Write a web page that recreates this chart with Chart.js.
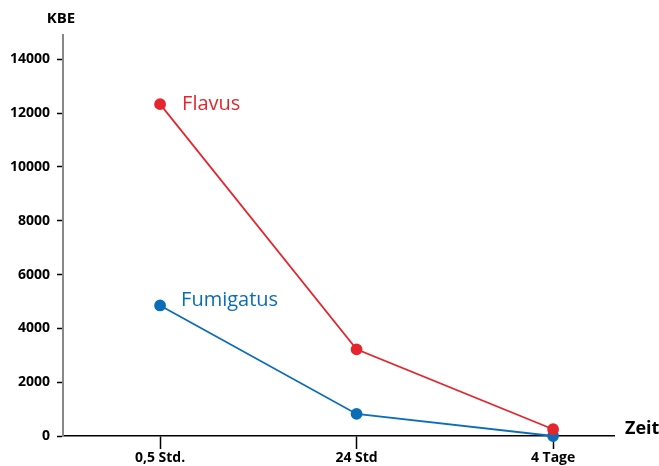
<!DOCTYPE html>
<html>
<head>
<meta charset="utf-8">
<script src="https://cdn.jsdelivr.net/npm/chart.js@4/dist/chart.umd.min.js"></script>
<style>
html,body{margin:0;padding:0;background:#fff;}
#wrap{width:659px;height:466px;position:relative;}
</style>
</head>
<body>
<div id="wrap"><canvas id="c" width="659" height="466"></canvas></div>
<script>
const categories = ["0,5 Std.", "24 Std", "4 Tage"];
const flavus = [12330, 3220, 250];
const fumigatus = [4850, 820, 0];
const yTicks = [0, 2000, 4000, 6000, 8000, 10000, 12000, 14000];
const seriesNames = ["Flavus", "Fumigatus"];
const yTitle = "KBE";
const xTitle = "Zeit";

const RED = "#e5262e";
const BLUE = "#0a6db8";
const FONT = "'Open Sans', 'DejaVu Sans', sans-serif";

const labelPlugin = {
  id: 'labels',
  afterDatasetsDraw(chart) {
    const ctx = chart.ctx;
    const ca = chart.chartArea;
    ctx.save();
    const offs = [{dx: 22, dy: 0}, {dx: 21, dy: -5}];
    const cols = [RED, BLUE];
    chart.data.datasets.forEach((ds, i) => {
      const p = chart.getDatasetMeta(i).data[0];
      ctx.fillStyle = cols[i];
      ctx.font = "20px " + FONT;
      ctx.textAlign = "left";
      ctx.textBaseline = "middle";
      ctx.fillText(seriesNames[i], p.x + offs[i].dx, p.y + offs[i].dy);
    });
    ctx.fillStyle = "#000";
    ctx.font = "bold 15px " + FONT;
    ctx.textAlign = "center";
    ctx.textBaseline = "middle";
    ctx.fillText(yTitle, ca.left - 2, ca.top - 16);
    ctx.font = "bold 18px " + FONT;
    ctx.textAlign = "left";
    ctx.fillText(xTitle, ca.right + 11, ca.bottom - 7);
    ctx.restore();
  }
};

new Chart(document.getElementById('c'), {
  type: 'line',
  data: {
    datasets: [
      {
        label: seriesNames[0],
        data: flavus.map((v, i) => ({x: i, y: v})),
        borderColor: RED, backgroundColor: RED,
        pointBackgroundColor: RED, pointBorderColor: RED,
        borderWidth: 1.8, pointRadius: 5, tension: 0
      },
      {
        label: seriesNames[1],
        data: fumigatus.map((v, i) => ({x: i, y: v})),
        borderColor: BLUE, backgroundColor: BLUE,
        pointBackgroundColor: BLUE, pointBorderColor: BLUE,
        borderWidth: 1.8, pointRadius: 5, tension: 0
      }
    ]
  },
  options: {
    responsive: false,
    animation: false,
    clip: false,
    layout: {padding: {left: 0, right: 45, top: 35, bottom: 0}},
    plugins: {legend: {display: false}, tooltip: {enabled: false}},
    scales: {
      x: {
        type: 'linear',
        min: -0.494, max: 2.31,
        afterBuildTicks(scale) { scale.ticks = categories.map((c, i) => ({value: i})); },
        afterFit(scale) { scale.height = 30; },
        ticks: {
          callback: (v) => categories[v],
          font: {family: FONT, size: 14, weight: 'bold'},
          color: '#000', padding: 1, maxRotation: 0, autoSkip: false
        },
        grid: {drawOnChartArea: false, drawTicks: true, tickLength: 13, tickColor: '#000', tickWidth: 1.5},
        border: {display: true, color: '#000', width: 1.5}
      },
      y: {
        type: 'linear',
        min: 0, max: 14900,
        afterBuildTicks(scale) { scale.ticks = yTicks.map(v => ({value: v})); },
        afterFit(scale) { scale.width = 63; },
        ticks: {
          callback: (v) => String(v),
          font: {family: FONT, size: 14, weight: 'bold'},
          color: '#000', padding: 7
        },
        grid: {drawOnChartArea: false, drawTicks: true, tickLength: 6, tickColor: '#000', tickWidth: 1.5},
        border: {display: true, color: '#888', width: 2}
      }
    }
  },
  plugins: [labelPlugin]
});
</script>
</body>
</html>
